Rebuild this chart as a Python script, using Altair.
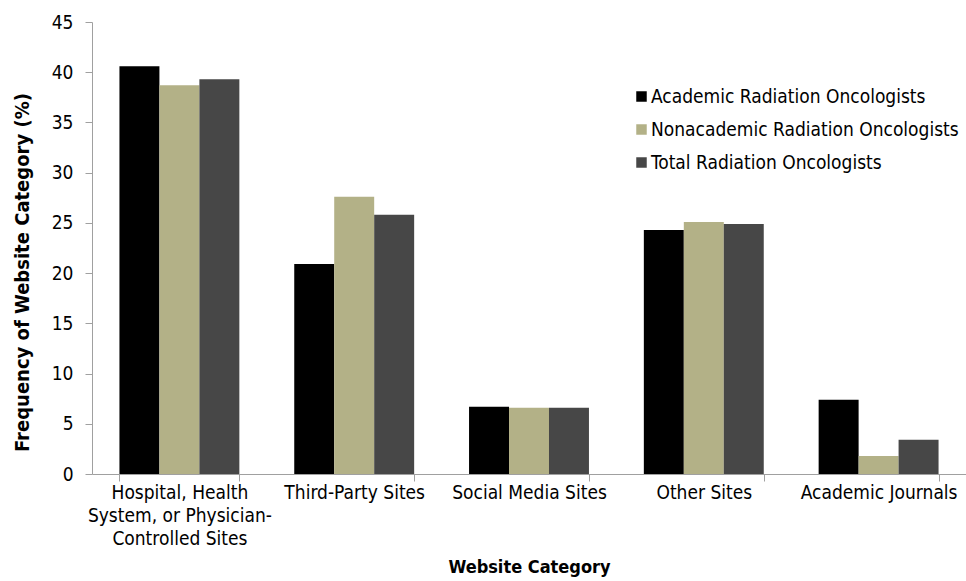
import altair as alt
import pandas as pd

categories = [
    "Hospital, Health System, or Physician-Controlled Sites",
    "Third-Party Sites",
    "Social Media Sites",
    "Other Sites",
    "Academic Journals",
]
series = [
    "Academic Radiation Oncologists",
    "Nonacademic Radiation Oncologists",
    "Total Radiation Oncologists",
]
academic = [40.6, 20.9, 6.7, 24.3, 7.4]
nonacademic = [38.7, 27.6, 6.6, 25.1, 1.8]
total = [39.3, 25.8, 6.6, 24.9, 3.4]
colors = ["#000000", "#B3B187", "#474747"]

rows = []
for s, vals in zip(series, [academic, nonacademic, total]):
    for c, v in zip(categories, vals):
        rows.append({"Category": c, "Series": s, "Value": v})
df = pd.DataFrame(rows)

FONT = "DejaVu Sans Condensed, Liberation Sans Narrow, sans-serif"

label_expr = (
    "datum.value == '" + categories[0] + "' ? "
    "['Hospital, Health', 'System, or Physician-', 'Controlled Sites'] : datum.label"
)

chart = alt.Chart(df).mark_bar().encode(
    x=alt.X(
        "Category:N",
        sort=categories,
        scale=alt.Scale(paddingInner=0.314, paddingOuter=0.157),
        axis=alt.Axis(
            title="Website Category",
            labelAngle=0,
            labelExpr=label_expr,
            labelFont=FONT,
            labelFontSize=19,
            labelColor="#000000",
            labelLineHeight=23,
            labelBaseline="top",
            labelPadding=2,
            labelLimit=300,
            tickBand="extent",
            tickSize=7,
            tickColor="#a0a0a0",
            domainColor="#a0a0a0",
            titleFont=FONT,
            titleFontSize=18,
            titleFontWeight="bold",
            titleColor="#000000",
            titleY=93,
            titleBaseline="middle",
        ),
    ),
    xOffset=alt.XOffset("Series:N", sort=series),
    y=alt.Y(
        "Value:Q",
        scale=alt.Scale(domain=[0, 45]),
        axis=alt.Axis(
            title="Frequency of Website Category (%)",
            values=list(range(0, 50, 5)),
            grid=False,
            labelFont=FONT,
            labelFontSize=19,
            labelColor="#000000",
            labelPadding=12,
            tickSize=7,
            tickColor="#a0a0a0",
            domainColor="#a0a0a0",
            titleFont=FONT,
            titleFontSize=20,
            titleFontWeight="bold",
            titleColor="#000000",
            titleX=-70,
            titleY=250,
            titleAngle=270,
            titleAlign="center",
            titleBaseline="middle",
        ),
    ),
    color=alt.Color(
        "Series:N",
        sort=series,
        scale=alt.Scale(domain=series, range=colors),
        legend=alt.Legend(
            title=None,
            orient="none",
            legendX=540,
            legendY=65,
            symbolType="square",
            symbolSize=110,
            symbolStrokeWidth=0,
            labelFont=FONT,
            labelFontSize=19,
            labelColor="#000000",
            labelOffset=0,
            rowPadding=13,
            labelLimit=400,
        ),
    ),
).properties(
    width=874,
    height=452,
    autosize=alt.AutoSizeParams(type="none"),
    padding={"left": 92, "top": 22, "right": 0, "bottom": 107},
).configure_view(stroke=None)

chart.save("out.html", embed_options={"renderer": "svg", "actions": False})
